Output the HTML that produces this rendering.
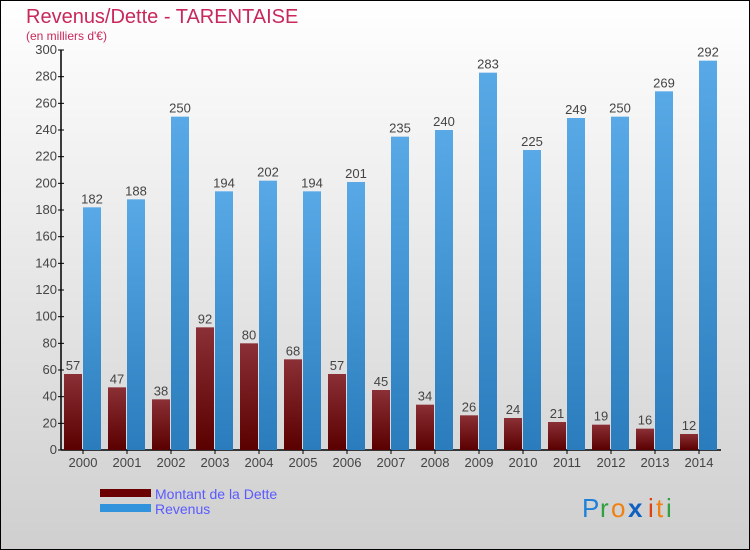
<!DOCTYPE html>
<html><head><meta charset="utf-8"><style>
body{margin:0;width:750px;height:550px;overflow:hidden}
svg{display:block;font-family:"Liberation Sans","DejaVu Sans",sans-serif}
</style></head><body>
<svg id="c" width="750" height="550">
<defs>
<linearGradient id="bg" x1="0" y1="0" x2="0" y2="1"><stop offset="0" stop-color="#ffffff"/><stop offset="1" stop-color="#cfcfcf"/></linearGradient>
<linearGradient id="red" x1="0" y1="0" x2="0" y2="1"><stop offset="0" stop-color="#8a3036"/><stop offset="1" stop-color="#5a0000"/></linearGradient>
<linearGradient id="blue" x1="0" y1="0" x2="0" y2="1"><stop offset="0" stop-color="#58a9e6"/><stop offset="1" stop-color="#2a7cbc"/></linearGradient>
</defs>
<rect x="0.5" y="0.5" width="749" height="549" fill="url(#bg)" stroke="#000"/>
<text x="26" y="23" font-size="20" fill="#c8285a">Revenus/Dette - TARENTAISE</text>
<text x="26" y="40" font-size="12" fill="#c8285a">(en milliers d'€)</text>
<g id="plot"></g>
<rect x="100" y="489" width="51" height="8" fill="#6a0000"/>
<text x="155" y="499" font-size="14" fill="#5a5aff">Montant de la Dette</text>
<rect x="100" y="504" width="51" height="8" fill="#3093dc"/>
<text x="155" y="514" font-size="14" fill="#5a5aff">Revenus</text>
<g font-size="26">
<text x="582" y="517" fill="#2080d8">P</text><text x="600" y="517" fill="#30a040">r</text><text x="611" y="517" fill="#f08010">o</text><text x="628" y="517" fill="#1060c0" font-weight="bold">x</text><text x="648" y="517" fill="#e04010">i</text><text x="656" y="517" fill="#f08010">t</text><text x="666" y="517" fill="#30a040">i</text>
</g>
</svg>
<script>
const categories=["2000","2001","2002","2003","2004","2005","2006","2007","2008","2009","2010","2011","2012","2013","2014"];
const dette=[57,47,38,92,80,68,57,45,34,26,24,21,19,16,12];
const revenus=[182,188,250,194,202,194,201,235,240,283,225,249,250,269,292];
const yTicks=[0,20,40,60,80,100,120,140,160,180,200,220,240,260,280,300];
const NS="http://www.w3.org/2000/svg";
const g=document.getElementById('plot');
const y=v=>450-v*400/300;
const x=i=>83+i*44;
function mk(t,a,txt){const e=document.createElementNS(NS,t);for(const k in a)e.setAttribute(k,a[k]);if(txt!==undefined)e.textContent=txt;g.appendChild(e);return e;}
let e;
e=mk('line',{x1:61,y1:50,x2:61,y2:450,stroke:'#000','stroke-width':1.5});


e=mk('line',{x1:61,y1:450,x2:721,y2:450,stroke:'#000','stroke-width':1.5});


yTicks.forEach(v=>{
 e=mk('line',{x1:58,y1:y(v),x2:64,y2:y(v),stroke:'#000'});
 
 
 e=mk('text',{x:57,y:y(v)+4,'font-size':13,fill:'#444','text-anchor':'end'},v);
 
 
});
categories.forEach((c,i)=>{
 const cx=x(i);
 e=mk('rect',{x:cx-19,y:y(dette[i]),width:18,height:450-y(dette[i]),fill:'url(#red)'});
 
 
 e=mk('rect',{x:cx,y:y(revenus[i]),width:18,height:450-y(revenus[i]),fill:'url(#blue)'});
 
 
 e=mk('text',{x:cx-10,y:y(dette[i])-4,'font-size':13,fill:'#444','text-anchor':'middle'},dette[i]);
 
 
 e=mk('text',{x:cx+9,y:y(revenus[i])-4,'font-size':13,fill:'#444','text-anchor':'middle'},revenus[i]);
 
 
 e=mk('line',{x1:cx,y1:450,x2:cx,y2:454,stroke:'#000'});
 
 
 e=mk('text',{x:cx,y:467,'font-size':13,fill:'#444','text-anchor':'middle'},c);
 
 
});
</script>
</body></html>
